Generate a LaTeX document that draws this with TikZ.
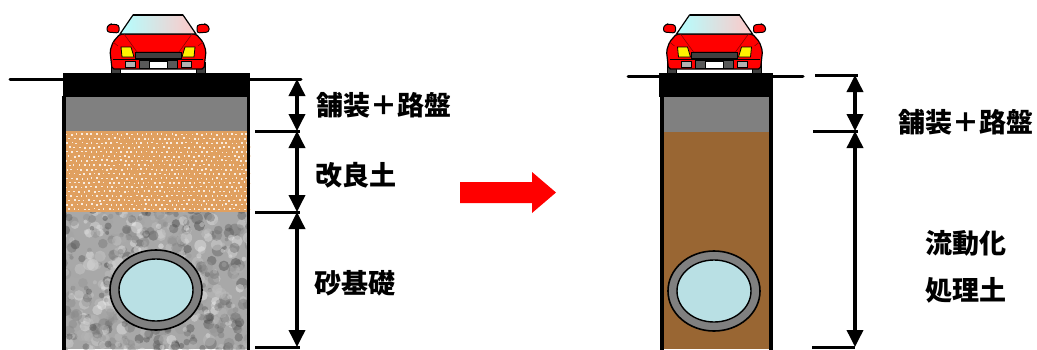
\documentclass[tikz,border=0pt]{standalone}
\usepackage{fontspec}
\newfontfamily\cjk{Noto Sans CJK JP}
\usetikzlibrary{arrows.meta}
\definecolor{tanc}{RGB}{224,160,96}
\definecolor{brownc}{RGB}{153,102,51}
\definecolor{pipein}{RGB}{185,224,228}
\definecolor{midgray}{RGB}{128,128,128}
\definecolor{granite}{RGB}{168,168,168}
\tikzset{
  ground/.style={line width=3pt, line cap=round},
  wall/.style={line width=3.6pt},
  tickline/.style={line width=3pt},
  dimline/.style={line width=3.6pt, {Triangle[length=17pt,width=16pt]}-{Triangle[length=17pt,width=16pt]}},
  lbl/.style={font={\cjk\bfseries\fontsize{27pt}{27pt}\selectfont}, anchor=west, inner sep=0pt},
  pipeout/.style={draw=black, line width=1.6pt, fill=midgray},
  pipeinner/.style={draw=black, line width=1.4pt, fill=pipein},
  car/.pic={
    % tires
    \filldraw[fill=black!75, draw=black, line width=0.8pt] (-47,-11) rectangle (-38,0);
    \filldraw[fill=black!75, draw=black, line width=0.8pt] (38,-11) rectangle (47,0);
    % mirrors
    \filldraw[fill=red, draw=black, line width=1pt, rounded corners=2.5pt]
      (-39,-40) -- (-51,-41) -- (-51,-47) -- (-47,-49) -- (-39,-48) -- cycle;
    \filldraw[fill=red, draw=black, line width=1pt, rounded corners=2.5pt]
      (39,-40) -- (51,-41) -- (51,-47) -- (47,-49) -- (39,-48) -- cycle;
    % body
    \filldraw[fill=red, draw=black, line width=1.2pt, rounded corners=2pt]
      (-46,-4) -- (-48,-22) -- (-45,-31) -- (-38,-39) -- (38,-39) -- (45,-31) -- (48,-22) -- (46,-4) -- cycle;
    % windshield
    \path[draw=black, line width=1.2pt, left color=cyan!30!white, right color=red!22!white]
      (-38,-39) -- (-25,-58) -- (25,-58) -- (38,-39) -- cycle;
    \draw[line width=2pt] (-25,-58) -- (25,-58);
    % hood creases
    \draw[red!55!black, line width=0.6pt] (-34,-39) -- (-21,-21) -- (21,-21) -- (34,-39);
    \draw[red!55!black, line width=0.6pt] (-45,-31) -- (-40,-27);
    \draw[red!55!black, line width=0.6pt] (45,-31) -- (40,-27);
    % upper grille
    \filldraw[fill=black!75, draw=black, line width=0.6pt] (-23,-21) rectangle (23,-15);
    % headlights
    \filldraw[fill=yellow, draw=black, line width=0.8pt] (-37,-26) -- (-27,-26) -- (-24,-16) -- (-36,-16) -- cycle;
    \filldraw[fill=yellow, draw=black, line width=0.8pt] (37,-26) -- (27,-26) -- (24,-16) -- (36,-16) -- cycle;
    % bumper line
    \draw[black, line width=0.7pt] (-45,-14) -- (45,-14);
    % lower grille
    \filldraw[fill=black!65, draw=black, line width=0.6pt] (-19,-13) rectangle (19,-5);
    \filldraw[fill=white, draw=black, line width=0.6pt] (-9,-12) rectangle (9,-5);
    % fog lights
    \filldraw[fill=black!30, draw=black, line width=0.6pt] (-33,-12) rectangle (-23,-6);
    \filldraw[fill=black!30, draw=black, line width=0.6pt] (23,-12) rectangle (33,-6);
  }
}
\begin{document}
\begin{tikzpicture}[x=1pt,y=-1pt]
\useasboundingbox (0,0) rectangle (1037,349);

% ================= LEFT TRENCH =================
\fill[midgray] (64,97) rectangle (248.5,131);
\fill[tanc] (64,131) rectangle (248.5,212);
\pgfmathsetseed{3}
\foreach \r in {0,...,17}{
  \foreach \c in {0,...,36}{
    \pgfmathsetmacro\xx{66+5*\c+2.5*mod(\r,2)+0.8*rand}
    \pgfmathsetmacro\yy{133.5+4.4*\r+0.6*rand}
    \fill[white!80!tanc] (\xx,\yy) rectangle +(1.6,1.6);
  }
}
\begin{scope}
  \clip (64,212) rectangle (248.5,349);
  \fill[granite] (64,212) rectangle (248.5,349);
  \pgfmathsetseed{7}
  \foreach \i in {1,...,650}{
    \pgfmathsetmacro\xx{60+rnd*193}
    \pgfmathsetmacro\yy{208+rnd*145}
    \pgfmathtruncatemacro\ss{25+rnd*72}
    \pgfmathsetmacro\rr{2+rnd*4}
    \fill[white!\ss!black, opacity=0.42] (\xx,\yy) circle (\rr);
  }
\end{scope}
\fill[black] (63,73) rectangle (250,97);
\draw[wall] (64,96) -- (64,352);
\draw[wall] (248.5,96) -- (248.5,352);
\draw[pipeout] (156,290) ellipse [x radius=46, y radius=40];
\draw[pipeinner] (156,290) ellipse [x radius=37, y radius=31];

% ground
\draw[ground] (10,79) -- (63,79);
\draw[ground] (250,79) -- (301,79);

% car
\pic at (158,73) {car};

% dimensions left
\coordinate (L0) at (297,79);
\coordinate (L1) at (297,131);
\coordinate (L2) at (297,212);
\coordinate (L3) at (297,347);
\coordinate (T1) at (255,131);
\coordinate (T2) at (255,212);
\coordinate (T3) at (255,347);
\draw[tickline] (T1) -- ([xshift=3pt]L1);
\draw[tickline] (T2) -- ([xshift=3pt]L2);
\draw[tickline] (T3) -- ([xshift=3pt]L3);
\draw[dimline] (L0) -- (L1);
\draw[dimline] (L1) -- (L2);
\draw[dimline] (L2) -- (L3);

\node[lbl] (la) at (316.5,105) {舗装＋路盤};
\node[lbl] (lb) at (315.5,175) {改良土};
\node[lbl] (lc) at (314,283) {砂基礎};

% ================= ARROW =================
\fill[red] (460,182) -- (532,182) -- (532,172) -- (556,192.5) -- (532,213) -- (532,203) -- (460,203) -- cycle;

% ================= RIGHT TRENCH =================
\fill[midgray] (662,97) rectangle (771,132);
\fill[brownc] (662,132) rectangle (771,349);
\fill[black] (659,73) rectangle (773,97);
\draw[wall] (662,96) -- (662,352);
\draw[wall] (771,96) -- (771,352);
\draw[pipeout] (714,291) ellipse [x radius=46, y radius=40];
\draw[pipeinner] (714,291) ellipse [x radius=37, y radius=31];

\draw[ground] (628,76) -- (659,76);
\draw[ground] (773,76) -- (803,76);

\pic at (714.5,73) {car};

\coordinate (R0) at (855,75);
\coordinate (R1) at (855,131);
\coordinate (R2) at (855,347);
\coordinate (S0) at (815,75);
\coordinate (S1) at (813,131);
\coordinate (S2) at (812,347);
\draw[tickline] (S0) -- ([xshift=3pt]R0);
\draw[tickline] (S1) -- ([xshift=3pt]R1);
\draw[tickline] (S2) -- (R2);
\draw[dimline] (R0) -- (R1);
\draw[dimline] (R1) -- (R2);

\node[lbl] (ra) at (898,122) {舗装＋路盤};
\node[lbl] (rb) at (925.5,243) {流動化};
\node[lbl] (rc) at (925.5,290) {処理土};
\end{tikzpicture}
\end{document}
